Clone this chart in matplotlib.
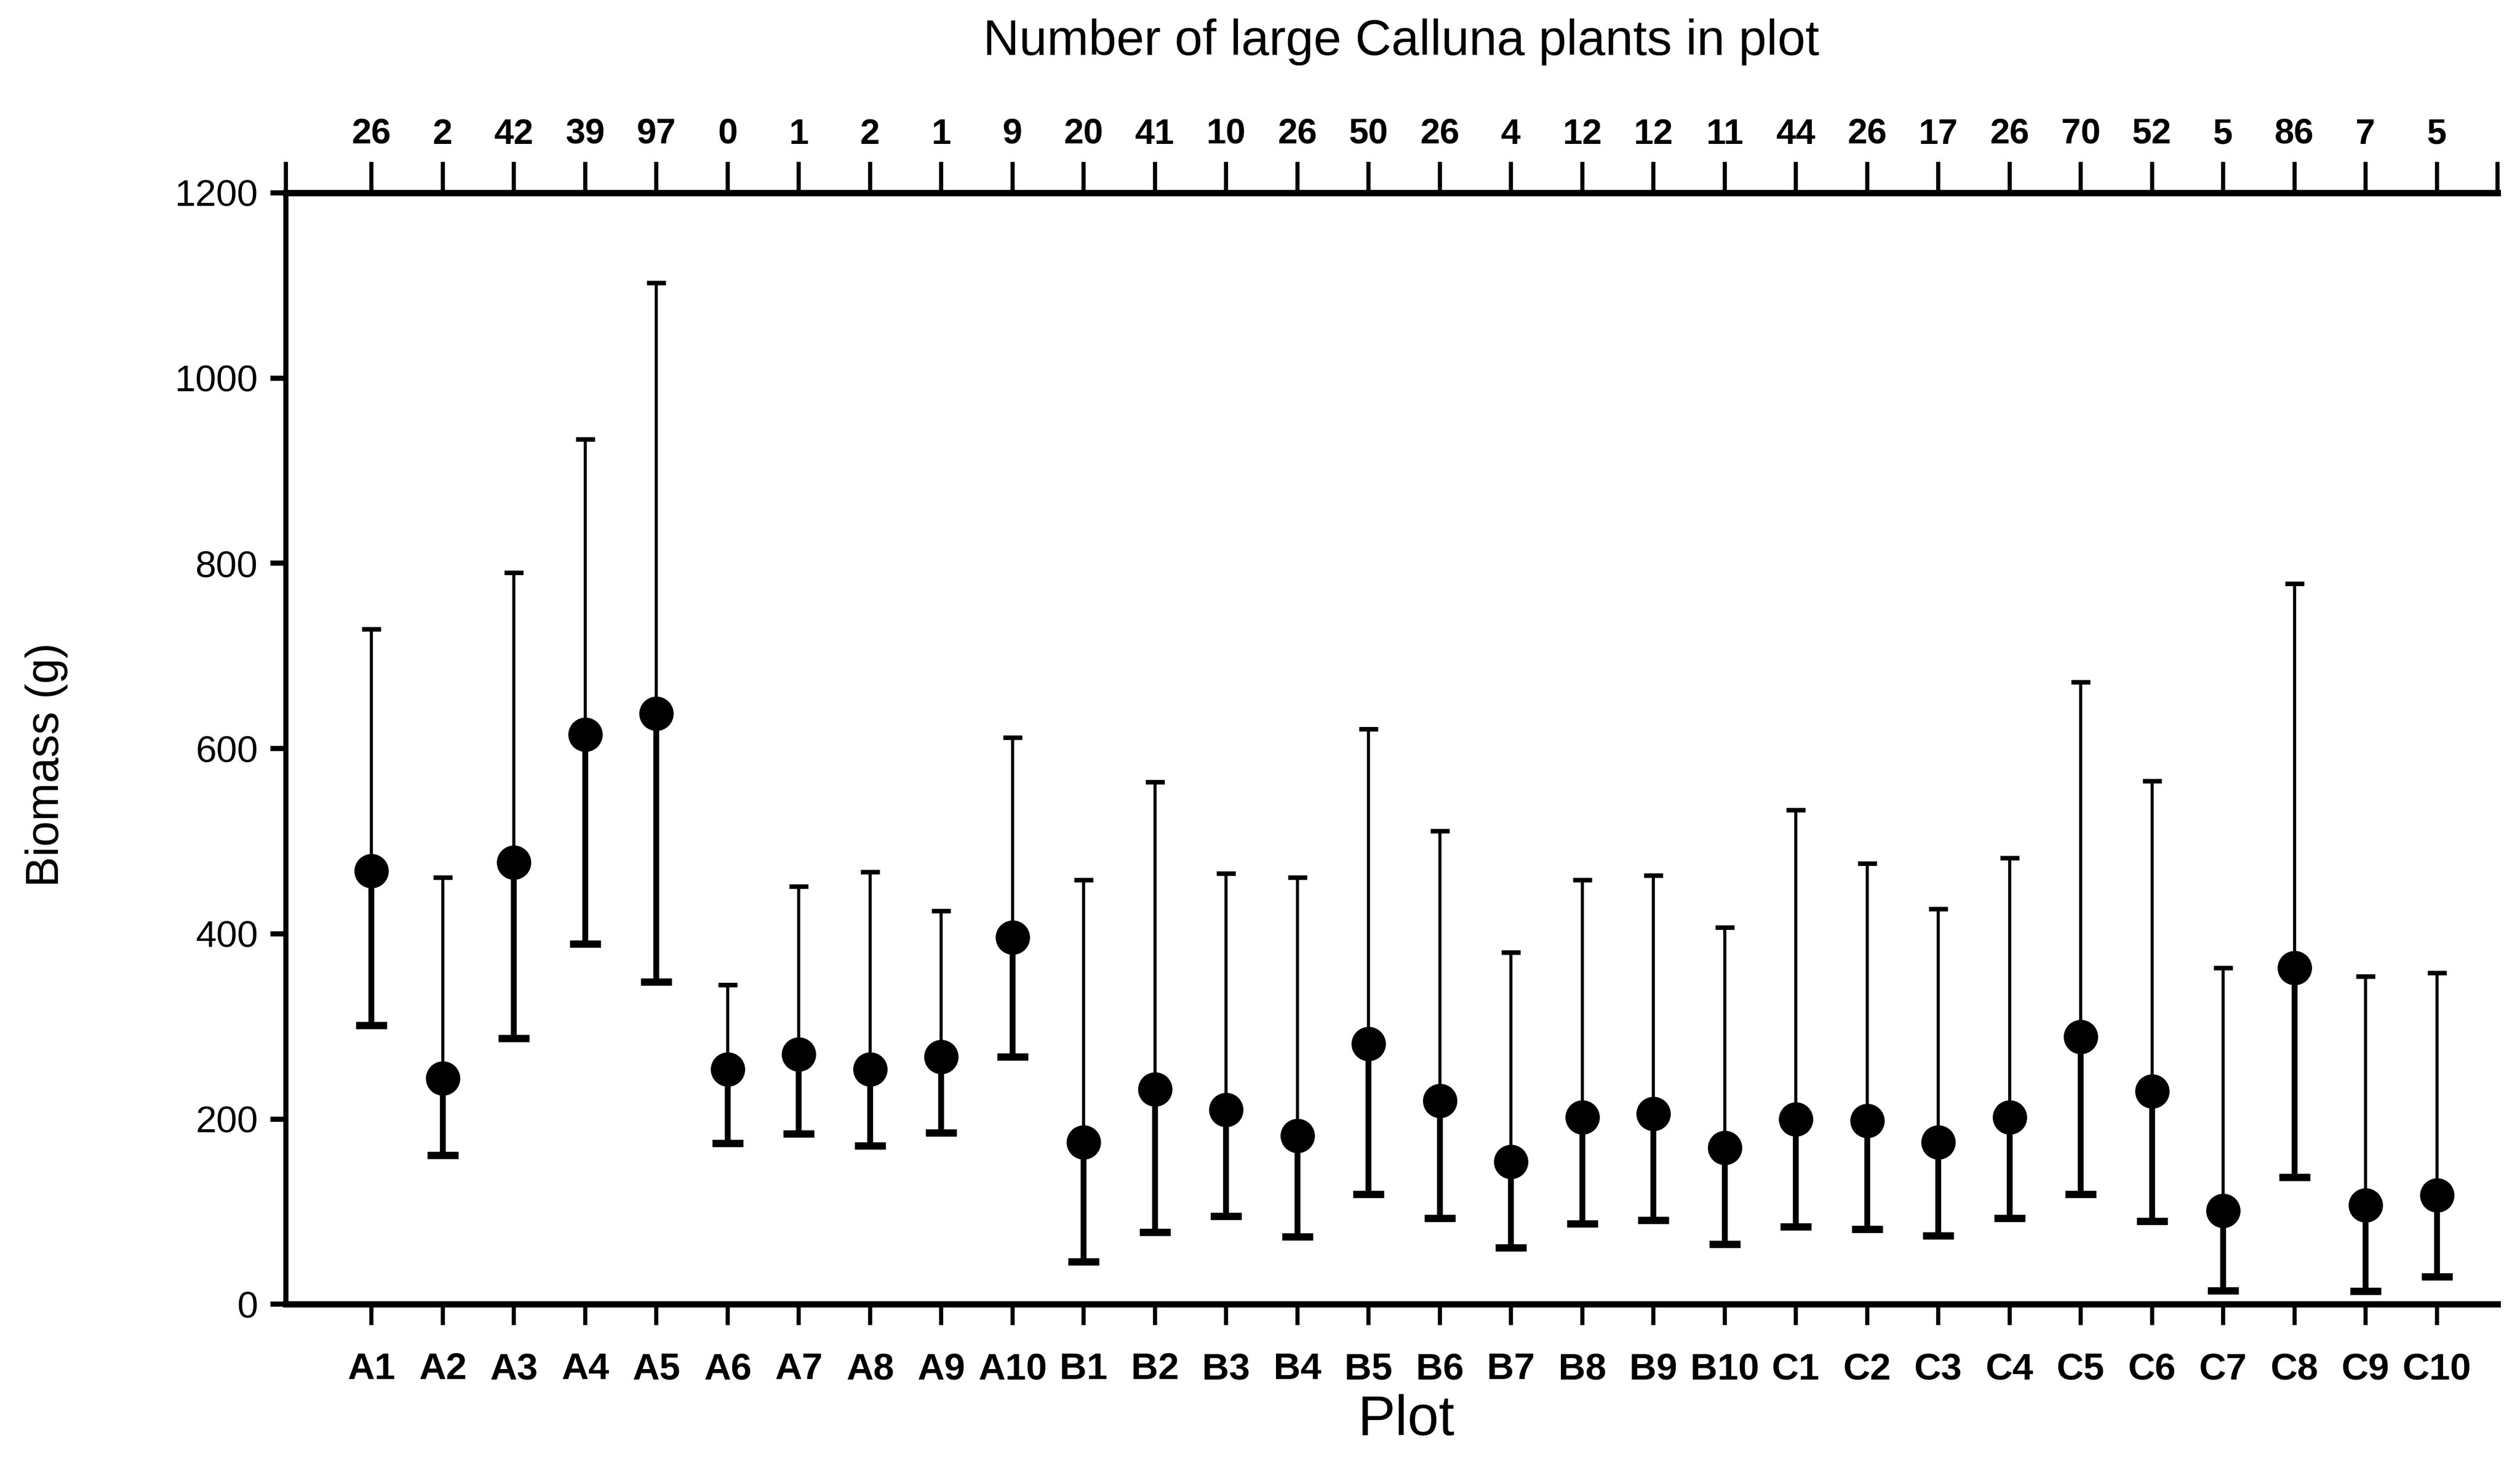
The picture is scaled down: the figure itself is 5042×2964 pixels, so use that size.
import matplotlib.pyplot as plt
import numpy as np

plt.rcParams['font.family'] = ['Liberation Sans', 'DejaVu Sans']

plots = ['A1', 'A2', 'A3', 'A4', 'A5', 'A6', 'A7', 'A8', 'A9', 'A10',
         'B1', 'B2', 'B3', 'B4', 'B5', 'B6', 'B7', 'B8', 'B9', 'B10',
         'C1', 'C2', 'C3', 'C4', 'C5', 'C6', 'C7', 'C8', 'C9', 'C10']
n_calluna = [26, 2, 42, 39, 97, 0, 1, 2, 1, 9,
             20, 41, 10, 26, 50, 26, 4, 12, 12, 11,
             44, 26, 17, 26, 70, 52, 5, 86, 7, 5]
biomass = [468, 244, 477, 615, 638, 254, 270, 254, 267, 396,
           175, 232, 210, 182, 281, 220, 154, 202, 206, 169,
           200, 198, 175, 202, 289, 230, 101, 363, 107, 118]
upper = [729, 461, 790, 934, 1103, 345, 451, 467, 425, 612,
         458, 564, 465, 461, 621, 511, 380, 458, 463, 407,
         534, 476, 427, 482, 672, 565, 363, 778, 354, 358]
lower = [301, 161, 287, 389, 348, 174, 184, 171, 185, 267,
         46, 78, 95, 73, 119, 93, 61, 87, 91, 65,
         84, 81, 74, 93, 119, 90, 15, 137, 14, 30]

x = np.arange(1, len(plots) + 1)

fig = plt.figure(figsize=(5042 / 300, 2964 / 300), dpi=300)
ax = fig.add_axes([0.1135, 0.1193, 0.8775, 0.7505])

# upper whisker thin with small cap, lower whisker thick with wide cap
ax.vlines(x, biomass, upper, color='black', linewidth=1.5)
ax.plot(x, upper, '_', color='black', markersize=9, markeredgewidth=2.2)
ax.vlines(x, lower, biomass, color='black', linewidth=2.8)
ax.plot(x, lower, '_', color='black', markersize=15, markeredgewidth=3.5)
ax.plot(x, biomass, 'o', color='black', markersize=15.5, zorder=5)

xlo, xhi = -0.2, 30.85
ax.set_xlim(xlo, xhi)
ax.set_ylim(0, 1200)
ax.set_yticks(np.arange(0, 1201, 200))
ax.set_xticks(x)
ax.set_xticklabels(plots, fontsize=18, fontweight='bold')
ax.tick_params(axis='y', direction='out', length=7.5, width=2.5,
               labelsize=18, pad=6)
ax.tick_params(axis='x', direction='out', length=10, width=2,
               pad=13)

ax.spines['right'].set_visible(False)
ax.spines['left'].set_linewidth(2.5)
ax.spines['bottom'].set_linewidth(3)
ax.spines['top'].set_linewidth(3)

top = ax.secondary_xaxis('top')
top.set_xticks([xlo] + list(x) + [xhi])
top.set_xticklabels([''] + [str(v) for v in n_calluna] + [''],
                    fontsize=17, fontweight='bold')
top.tick_params(direction='out', length=15, width=2, pad=5)
top.spines['top'].set_linewidth(3)

fig.text(0.556, 0.963, 'Number of large Calluna plants in plot',
         fontsize=24, ha='center', va='baseline')
fig.text(0.558, 0.031, 'Plot', fontsize=27, ha='center', va='baseline')
fig.text(0.0185, 0.4837, 'Biomass (g)', fontsize=22, rotation=90,
         ha='center', va='center')

fig.savefig('out.png', dpi=300)
